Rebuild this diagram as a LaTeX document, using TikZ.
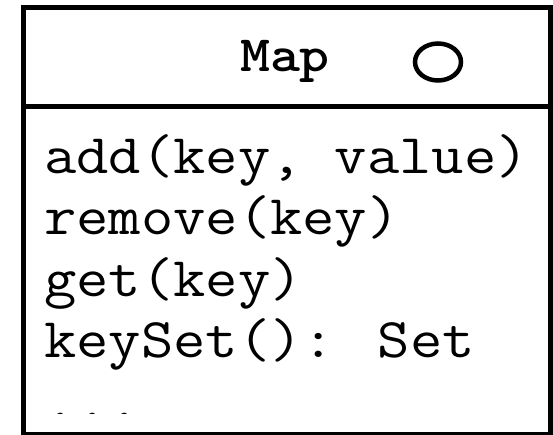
\documentclass[tikz,border=0pt]{standalone}
\usepackage{graphicx}
% members are set in a slightly widened typewriter face
\newcommand{\wide}[1]{\scalebox{1.12}[1]{#1}}
\begin{document}
\begin{tikzpicture}[x=1pt,y=-1pt,
    frame/.style={line width=5pt},
    title/.style={inner sep=0pt,anchor=base,font=\ttfamily\bfseries\fontsize{51}{60}\selectfont},
    member/.style={inner sep=0pt,anchor=base west,font=\ttfamily\fontsize{56}{61}\selectfont}]
  \useasboundingbox (0,0) rectangle (553,435);
  % class frame and compartment divider
  \draw[frame] (23,7.5) rectangle (550.5,434);
  \draw[frame] (23,107) -- (550.5,107);
  % header: class name and interface marker
  \node[title] (name) at (285,72) {\wide{Map}};
  \draw[line width=4.5pt] (438,62) ellipse (23 and 18.5);
  % operations compartment, cut off at the bottom
  \begin{scope}
    \clip (26,110) rectangle (548,413.5);
    \node[member] (op1) at (44,174) {\wide{add(key, value)}};
    \node[member] (op2) at (44,235) {\wide{remove(key)}};
    \node[member] (op3) at (44,296) {\wide{get(key)}};
    \node[member] (op4) at (44,357) {\wide{keySet(): Set}};
    \node[member] (op5) at (44,419.5) {\wide{...}};
  \end{scope}
\end{tikzpicture}
\end{document}
